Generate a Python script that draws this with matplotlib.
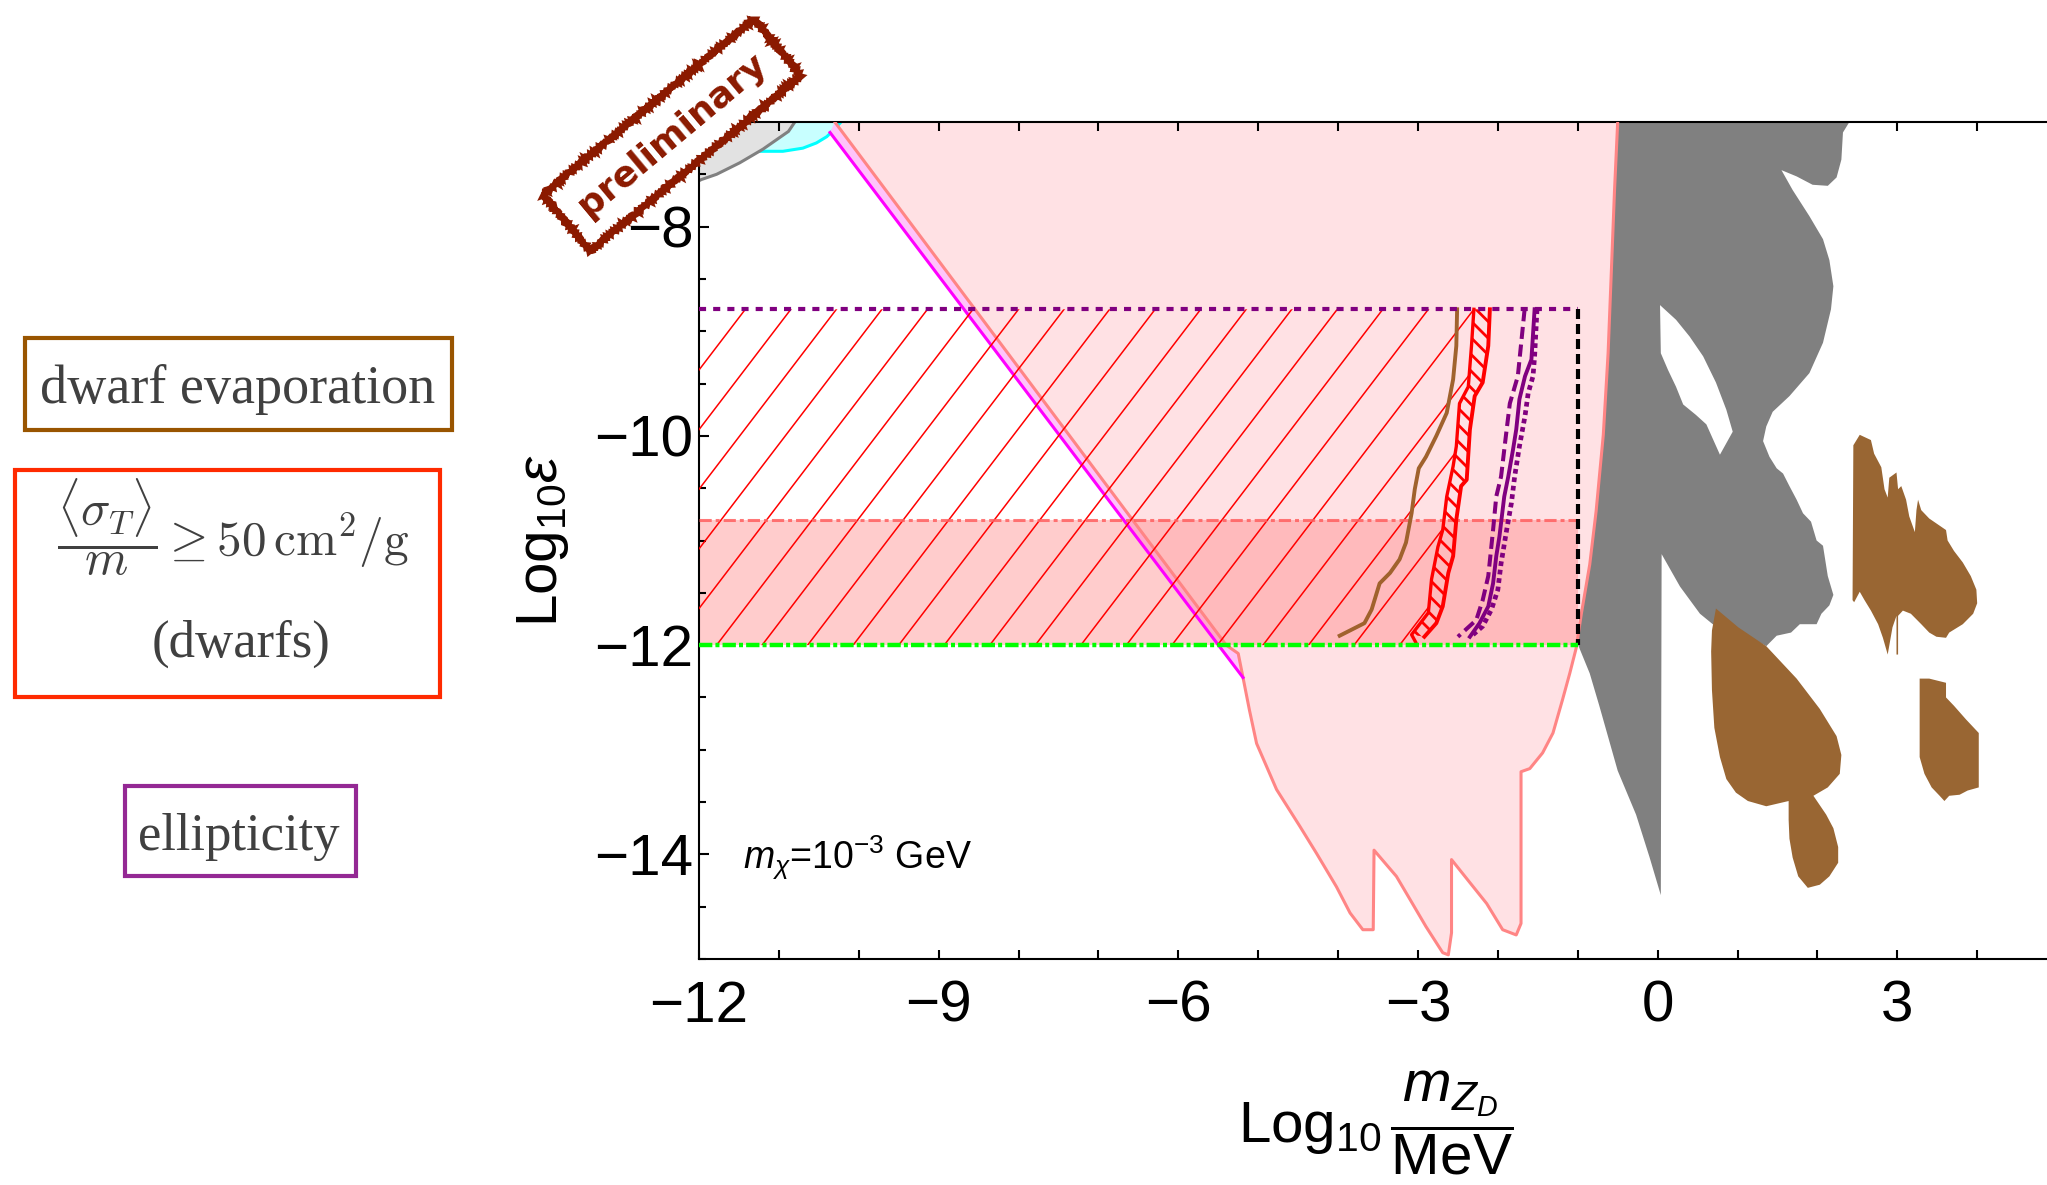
import numpy as np
import matplotlib
matplotlib.use('Agg')
import matplotlib.pyplot as plt
from matplotlib.patches import Polygon, Rectangle
from matplotlib.ticker import MultipleLocator

# %% 1. Dados (x = Log10 mZD/MeV, y = Log10 eps)
regiao_rosa = np.array([
    (-10.30, -7.0), (-5.40, -12.0), (-5.25, -12.08), (-5.19, -12.31), (-5.11, -12.62),
    (-5.02, -12.94), (-4.77, -13.38), (-4.48, -13.73), (-4.27, -13.99), (-4.02, -14.31),
    (-3.85, -14.56), (-3.69, -14.72), (-3.56, -14.72), (-3.55, -13.96), (-3.27, -14.21),
    (-3.10, -14.43), (-2.90, -14.69), (-2.69, -14.94), (-2.62, -14.96), (-2.58, -14.75),
    (-2.58, -14.05), (-2.35, -14.27), (-2.14, -14.47), (-1.94, -14.72), (-1.77, -14.77),
    (-1.71, -14.66), (-1.71, -13.21), (-1.60, -13.18), (-1.44, -13.03), (-1.31, -12.84),
    (-1.19, -12.52), (-1.10, -12.27), (-1.02, -12.03), (-0.955, -11.70), (-0.85, -11.23),
    (-0.77, -10.72), (-0.68, -9.99), (-0.62, -9.21), (-0.58, -8.44), (-0.54, -7.66),
    (-0.50, -7.0),
])

# faixa magenta entre a reta magenta e a borda rosa
reta_magenta = np.array([(-10.36, -7.10), (-5.19, -12.31)])
faixa_magenta = np.array([(-10.36, -7.10), (-5.19, -12.31), (-5.23, -12.11),
                          (-5.40, -12.0), (-10.30, -7.0)])

regiao_cinza = np.array([
    (-0.50, -7.0), (2.40, -7.0), (2.32, -7.10), (2.30, -7.36), (2.24, -7.53), (2.13, -7.61),
    (1.94, -7.60), (1.74, -7.52), (1.55, -7.46), (1.69, -7.65), (1.90, -7.90), (2.07, -8.12),
    (2.15, -8.32), (2.20, -8.57), (2.17, -8.79), (2.07, -9.11), (1.90, -9.40), (1.65, -9.62),
    (1.44, -9.77), (1.36, -9.91), (1.32, -10.05), (1.40, -10.20), (1.49, -10.31), (1.57, -10.36),
    (1.65, -10.48), (1.74, -10.61), (1.82, -10.74), (1.92, -10.82), (1.99, -11.00), (2.07, -11.05),
    (2.13, -11.34), (2.20, -11.52), (2.15, -11.62), (2.05, -11.70), (1.99, -11.80), (1.78, -11.80),
    (1.67, -11.88), (1.49, -11.91), (1.36, -12.01), (0.98, -11.85), (0.69, -11.80), (0.53, -11.70),
    (0.28, -11.44), (0.05, -11.13), (0.04, -14.39), (-0.10, -14.03), (-0.27, -13.62), (-0.50, -13.20),
    (-0.73, -12.58), (-0.85, -12.27), (-1.00, -11.99), (-0.955, -11.70), (-0.85, -11.23),
    (-0.77, -10.72), (-0.68, -9.99), (-0.62, -9.21), (-0.58, -8.44), (-0.54, -7.66),
])
furo_cinza = np.array([
    (0.03, -8.75), (0.04, -9.21), (0.13, -9.37), (0.23, -9.53), (0.32, -9.70), (0.48, -9.80),
    (0.61, -9.89), (0.78, -10.18), (0.94, -9.96), (0.86, -9.75), (0.73, -9.49), (0.57, -9.24),
    (0.40, -9.05), (0.23, -8.89),
])

mancha_a = np.array([
    (0.73, -11.65), (1.01, -11.83), (1.36, -12.01), (1.74, -12.32), (2.03, -12.61), (2.24, -12.87),
    (2.30, -13.05), (2.28, -13.23), (2.13, -13.36), (1.95, -13.44), (2.11, -13.62), (2.20, -13.75),
    (2.26, -13.93), (2.26, -14.08), (2.15, -14.21), (2.03, -14.29), (1.88, -14.32), (1.76, -14.21),
    (1.69, -14.03), (1.65, -13.85), (1.64, -13.67), (1.64, -13.49), (1.36, -13.54), (1.13, -13.49),
    (0.98, -13.41), (0.86, -13.28), (0.78, -13.07), (0.71, -12.79), (0.68, -12.43), (0.67, -12.06),
    (0.68, -11.86),
])
mancha_b = np.array([
    (2.44, -11.57), (2.45, -10.09), (2.53, -9.99), (2.67, -10.04), (2.71, -10.17), (2.80, -10.30),
    (2.84, -10.51), (2.88, -10.59), (2.90, -10.40), (2.99, -10.35), (3.01, -10.51), (3.05, -10.48),
    (3.11, -10.61), (3.15, -10.77), (3.22, -10.92), (3.24, -10.71), (3.26, -10.61), (3.30, -10.71),
    (3.40, -10.79), (3.61, -10.90), (3.63, -11.00), (3.71, -11.10), (3.82, -11.21), (3.92, -11.34),
    (3.99, -11.47), (4.00, -11.60), (3.95, -11.70), (3.82, -11.80), (3.65, -11.88), (3.61, -11.93),
    (3.49, -11.92), (3.40, -11.88), (3.30, -11.80), (3.17, -11.70), (3.07, -11.67), (3.01, -11.72),
    (3.01, -12.09), (2.99, -12.09), (2.99, -11.72), (2.94, -11.83), (2.88, -12.09), (2.82, -11.93),
    (2.76, -11.80), (2.67, -11.67), (2.59, -11.57), (2.53, -11.49), (2.46, -11.59),
])
mancha_c = np.array([
    (3.28, -12.32), (3.40, -12.32), (3.61, -12.36), (3.61, -12.50), (3.71, -12.58), (3.86, -12.71),
    (4.02, -12.84), (4.02, -13.36), (3.88, -13.39), (3.78, -13.43), (3.65, -13.44), (3.59, -13.49),
    (3.53, -13.44), (3.43, -13.36), (3.34, -13.23), (3.28, -13.07), (3.28, -12.84),
])

# regiões no canto superior esquerdo
regiao_cinza_clara = np.array([(-12.5, -7.75), (-11.97, -7.55), (-11.78, -7.50), (-11.49, -7.39),
                               (-11.20, -7.26), (-10.88, -7.09), (-10.80, -7.0), (-10.78, -6.9),
                               (-12.5, -6.9)])
borda_ciano = np.array([(-11.6, -7.28), (-11.24, -7.28), (-10.95, -7.28), (-10.70, -7.25),
                        (-10.53, -7.20), (-10.40, -7.14), (-10.32, -7.08), (-10.21, -6.99)])

# linhas de evaporação / dwarfs / elipticidade
linha_evaporacao = np.array([
    (-3.98, -11.91), (-3.67, -11.79), (-3.58, -11.66), (-3.48, -11.41), (-3.35, -11.31),
    (-3.23, -11.18), (-3.15, -11.02), (-3.08, -10.74), (-3.04, -10.51), (-2.99, -10.31),
    (-2.90, -10.20), (-2.77, -10.00), (-2.64, -9.78), (-2.56, -9.46), (-2.52, -9.14), (-2.51, -8.79),
])
dwarfs_esq = np.array([
    (-2.30, -8.79), (-2.33, -9.14), (-2.37, -9.53), (-2.48, -9.69), (-2.52, -10.10), (-2.56, -10.29),
    (-2.64, -10.58), (-2.69, -10.90), (-2.75, -11.06), (-2.83, -11.37), (-2.87, -11.69),
    (-2.98, -11.80), (-3.08, -11.90), (-3.03, -11.97),
])
dwarfs_dir = np.array([
    (-2.10, -8.79), (-2.12, -9.14), (-2.19, -9.49), (-2.29, -9.62), (-2.35, -9.94), (-2.39, -10.42),
    (-2.46, -10.48), (-2.52, -10.80), (-2.56, -11.15), (-2.62, -11.31), (-2.69, -11.63),
    (-2.77, -11.79), (-2.92, -11.92),
])
elipt_tracejada = np.array([
    (-1.665, -8.79), (-1.75, -9.43), (-1.85, -9.69), (-1.89, -9.94), (-1.96, -10.39), (-2.02, -10.58),
    (-2.06, -10.90), (-2.12, -11.34), (-2.19, -11.57), (-2.27, -11.76), (-2.50, -11.92),
])
elipt_solida = np.array([
    (-1.54, -8.79), (-1.58, -9.27), (-1.66, -9.43), (-1.73, -9.65), (-1.77, -9.94), (-1.81, -10.13),
    (-1.87, -10.39), (-1.92, -10.58), (-1.98, -10.96), (-2.02, -11.15), (-2.06, -11.41),
    (-2.12, -11.63), (-2.23, -11.79), (-2.35, -11.92),
])
elipt_pontilhada = np.array([
    (-1.51, -8.79), (-1.54, -9.24), (-1.56, -9.43), (-1.62, -9.59), (-1.66, -9.81), (-1.73, -10.10),
    (-1.79, -10.39), (-1.83, -10.64), (-1.89, -10.90), (-1.96, -11.22), (-2.00, -11.47),
    (-2.08, -11.66), (-2.19, -11.82), (-2.31, -11.90),
])

# limites da caixa hachurada
x_caixa = [-12.0, -1.0]
y_topo_caixa = -8.79
y_faixa = -10.8
y_base_caixa = -12.0

# %% 2. Figura
plt.rcParams['font.family'] = ['Liberation Sans', 'DejaVu Sans']
plt.rcParams['mathtext.fontset'] = 'custom'
plt.rcParams['mathtext.rm'] = 'Liberation Sans'
plt.rcParams['mathtext.it'] = 'Liberation Sans:italic'
plt.rcParams['mathtext.bf'] = 'Liberation Sans:bold'
plt.rcParams['hatch.linewidth'] = 2.0
plt.rcParams['axes.linewidth'] = 1.5

W, H = 2047, 1185
fig = plt.figure(figsize=(W / 100, H / 100), dpi=100)
# o eixo passa da borda direita, como no original recortado
ax = fig.add_axes([699 / W, 1 - 959 / H, 1398 / W, 837 / H])
ax.set_xlim(-12, 5.5)
ax.set_ylim(-15, -7)

# regiões preenchidas
ax.add_patch(Polygon(np.vstack([borda_ciano, [(-10.2, -6.9), (-11.6, -6.9)]]),
                     closed=True, fc='#C8FFFF', ec='none', zorder=1))
ax.plot(borda_ciano[:, 0], borda_ciano[:, 1], color='#00FFFF', lw=2.2, zorder=1.05)
ax.add_patch(Polygon(regiao_cinza_clara, closed=True, fc='#E2E2E2', ec='#808080', lw=2.2, zorder=1.1))

ax.add_patch(Polygon(regiao_rosa, closed=True, fc='#FFE1E4', ec='none', zorder=1))
ax.add_patch(Polygon(faixa_magenta, closed=True, fc='#FFC4FA', ec='none', zorder=1.2))
ax.fill_between(x_caixa, y_base_caixa, y_faixa, color='#FF8080', alpha=0.4, lw=0, zorder=1.5)

ax.add_patch(Polygon(regiao_cinza, closed=True, fc='#808080', ec='none', zorder=2))
ax.add_patch(Polygon(furo_cinza, closed=True, fc='white', ec='none', zorder=2.1))
for mancha in [mancha_a, mancha_b, mancha_c]:
    ax.add_patch(Polygon(mancha, closed=True, fc='#996633', ec='none', zorder=2.2))

ax.plot(regiao_rosa[:, 0], regiao_rosa[:, 1], color='#FF8585', lw=2.2, zorder=3)
ax.plot(reta_magenta[:, 0], reta_magenta[:, 1], color='#FF00FF', lw=2.2, zorder=3.1)

# hachura da região excluída (linhas y = x + c recortadas)
area_hachura = Polygon(np.vstack([[(-12.0, y_topo_caixa)], dwarfs_esq, [(-3.0, -12.0), (-12.0, -12.0)]]),
                       closed=True, fc='none', ec='none')
ax.add_patch(area_hachura)
xx = np.array([-14.0, 0.0])
for c in np.arange(2.63, -10.0, -0.57):
    ln, = ax.plot(xx, xx + c, color='red', lw=1.1, zorder=3.2)
    ln.set_clip_path(area_hachura)

ax.plot(x_caixa, [y_faixa, y_faixa], color='#FF6060', alpha=0.85, lw=2.2,
        ls=(0, (4, 1.3, 1.3, 1.3)), zorder=3.3)

ax.plot(linha_evaporacao[:, 0], linha_evaporacao[:, 1], color='#A0622D', lw=2.8, zorder=4)

tira = np.vstack([dwarfs_esq[:-1], dwarfs_dir[::-1]])
ax.add_patch(Polygon(tira, closed=True, fc='none', ec='red', lw=0, hatch='\\\\', zorder=4))
ax.plot(dwarfs_esq[:, 0], dwarfs_esq[:, 1], color='red', lw=2.4, zorder=4.1)
ax.plot(dwarfs_dir[:, 0], dwarfs_dir[:, 1], color='red', lw=2.8, zorder=4.1)

ax.plot(elipt_tracejada[:, 0], elipt_tracejada[:, 1], color='#800080', lw=2.9,
        ls=(0, (3.0, 1.4)), zorder=4)
ax.plot(elipt_solida[:, 0], elipt_solida[:, 1], color='#800080', lw=2.8, zorder=4)
ax.plot(elipt_pontilhada[:, 0], elipt_pontilhada[:, 1], color='#800080', lw=3.4,
        ls=(0, (1.0, 0.8)), zorder=4)

ax.plot(x_caixa, [y_topo_caixa, y_topo_caixa], color='#800080', lw=3.0,
        ls=(0, (1.7, 1.7)), dash_capstyle='butt', zorder=5)
ax.plot([x_caixa[1], x_caixa[1]], [y_topo_caixa, y_base_caixa], color='black', lw=3.0,
        ls=(0, (2.4, 1.2)), zorder=5)
ax.plot(x_caixa, [y_base_caixa, y_base_caixa], color='#00FF00', lw=3.2,
        ls=(0, (3.0, 0.7, 0.9, 0.7)), zorder=5)

ax.text(-11.45, -14.03, r'$m_{\chi}$=10$^{-3}$ GeV', fontsize=27, va='center', ha='left', zorder=6)

# eixos no estilo do original
ax.xaxis.set_major_locator(MultipleLocator(3))
ax.xaxis.set_minor_locator(MultipleLocator(1))
ax.yaxis.set_major_locator(MultipleLocator(2))
ax.yaxis.set_minor_locator(MultipleLocator(0.5))
ax.tick_params(axis='both', which='both', direction='in', top=True, right=False, width=1.5)
ax.tick_params(axis='x', which='both', length=6.2)
ax.tick_params(axis='x', which='major', labelsize=42, pad=15)
ax.tick_params(axis='y', which='major', length=7.2, labelsize=42, pad=4)
ax.tick_params(axis='y', which='minor', length=4.8)

ax.set_ylabel(r'$\mathrm{Log}_{10}\epsilon$', fontsize=42, va='center')
ax.yaxis.set_label_coords((543 - 699) / 1398, 0.5)
ax.set_xlabel(r'$\mathrm{Log}_{10}\,\dfrac{m_{Z_D}}{\mathrm{MeV}}$', fontsize=42, va='center')
ax.xaxis.set_label_coords((1376 - 699) / 1398, (959 - 1123) / 837)

# %% 3. Caixas de legenda à esquerda
def fx(px):
    return px / W

def fy(py):
    return 1 - py / H

cinza_texto = '#404040'
caixas = [((25, 338, 452, 430), '#995500'),
          ((15, 470, 440, 697), '#FF2A00'),
          ((125, 786, 356, 876), '#942894')]
for (x0, y0, x1, y1), cor in caixas:
    fig.add_artist(Rectangle((fx(x0), fy(y1)), fx(x1) - fx(x0), fy(y0) - fy(y1),
                             transform=fig.transFigure, fill=False, ec=cor, lw=3))

fig.text(fx(238), fy(403), 'dwarf evaporation', family='Liberation Serif', fontsize=39,
         color=cinza_texto, ha='center', va='baseline')
fig.text(fx(233), fy(556), r'$\dfrac{\langle\sigma_T\rangle}{m}\geq 50\,\mathrm{cm}^2/\mathrm{g}$',
         math_fontfamily='cm', fontsize=35.5, color=cinza_texto, ha='center', va='baseline')
fig.text(fx(241), fy(657), '(dwarfs)', family='Liberation Serif', fontsize=38,
         color=cinza_texto, ha='center', va='baseline')
fig.text(fx(239), fy(850), 'ellipticity', family='Liberation Serif', fontsize=38,
         color=cinza_texto, ha='center', va='baseline')

# carimbo "preliminary"
carimbo = fig.text(fx(672), fy(135), 'preliminary', rotation=39.8, rotation_mode='anchor',
                   ha='center', va='center', color='#8B1A00', fontsize=26, fontweight='bold',
                   family='DejaVu Sans', zorder=10,
                   bbox=dict(boxstyle='square,pad=0.55', fc='white', ec='#8B1A00', lw=4))
carimbo.get_bbox_patch().set_sketch_params(scale=1.5, length=4, randomness=2)

fig.savefig('out.png', dpi=100)
